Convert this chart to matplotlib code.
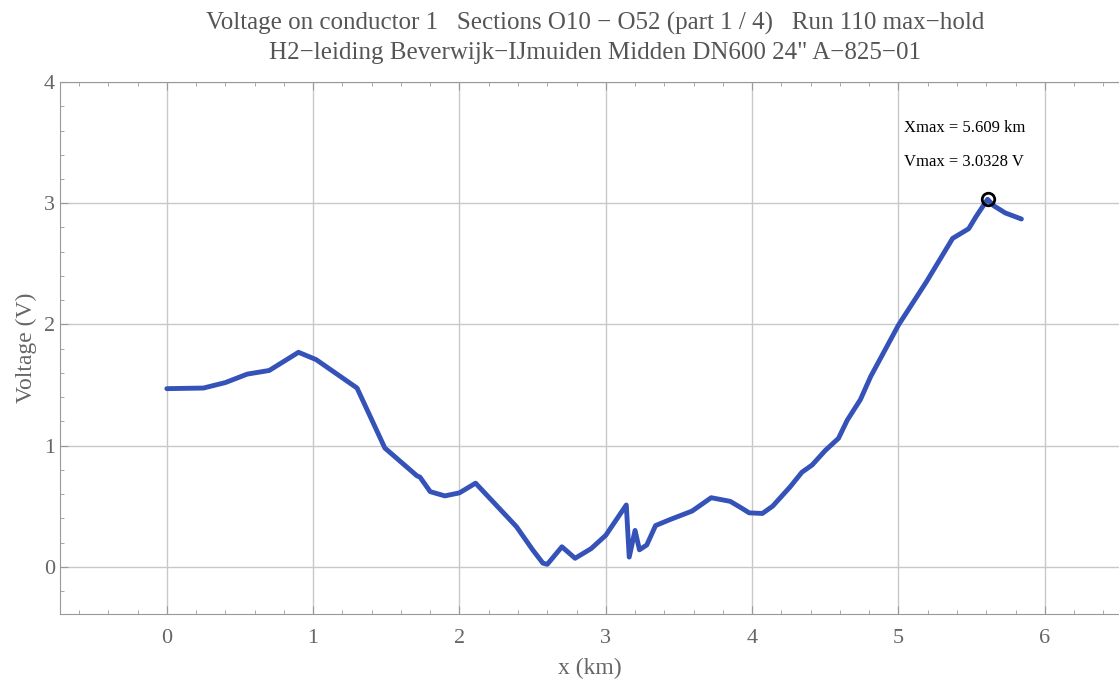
import matplotlib
matplotlib.use("Agg")
import matplotlib.pyplot as plt
from matplotlib.ticker import MultipleLocator

# voltage profile (km, V)
x_km = [0.00, 0.25, 0.40, 0.55, 0.70, 0.90, 1.02, 1.30, 1.49, 1.71, 1.73,
        1.80, 1.90, 2.00, 2.11, 2.39, 2.50, 2.57, 2.60, 2.70, 2.79, 2.90,
        3.00, 3.14, 3.16, 3.20, 3.23, 3.28, 3.34, 3.44, 3.59, 3.72, 3.85,
        3.92, 3.98, 4.07, 4.14, 4.26, 4.34, 4.41, 4.50, 4.59, 4.65, 4.74,
        4.81, 5.00, 5.19, 5.37, 5.48, 5.53, 5.609, 5.65, 5.73, 5.84]
volt = [1.47, 1.475, 1.52, 1.59, 1.62, 1.77, 1.71, 1.475, 0.98, 0.75, 0.74,
        0.62, 0.585, 0.61, 0.69, 0.33, 0.14, 0.03, 0.02, 0.165, 0.07, 0.15,
        0.26, 0.51, 0.08, 0.30, 0.14, 0.18, 0.34, 0.39, 0.46, 0.57, 0.54,
        0.49, 0.445, 0.44, 0.50, 0.66, 0.78, 0.84, 0.96, 1.06, 1.21, 1.38,
        1.57, 1.995, 2.35, 2.71, 2.79, 2.89, 3.0328, 2.98, 2.92, 2.87]

x_max = 5.609
v_max = 3.0328

title = ("Voltage on conductor 1   Sections O10 \u2212 O52 (part 1 / 4)   Run 110 max\u2212hold\n"
         "H2\u2212leiding Beverwijk\u2212IJmuiden Midden DN600 24\" A\u2212825\u221201")

plt.rcParams['font.family'] = ['Liberation Serif', 'DejaVu Serif']

fig = plt.figure(figsize=(11.19, 6.84), dpi=100)
ax = fig.add_axes([0.0536, 0.1023, 0.9464, 0.7777])

ax.plot(x_km, volt, color='#3452b8', linewidth=3.5, solid_joinstyle='round',
        solid_capstyle='round')
ax.plot([x_max], [v_max], 'o', markersize=9, markerfacecolor='none',
        markeredgecolor='black', markeredgewidth=2)
ax.text(5.04, 3.62, f"Xmax = {x_max} km", fontsize=12, va='center')
ax.text(5.04, 3.34, f"Vmax = {v_max} V", fontsize=12, va='center')

ax.set_xlim(-0.73, 6.507)
ax.set_ylim(-0.39, 4.0)
ax.xaxis.set_major_locator(MultipleLocator(1))
ax.xaxis.set_minor_locator(MultipleLocator(0.2))
ax.yaxis.set_major_locator(MultipleLocator(1))
ax.yaxis.set_minor_locator(MultipleLocator(0.2))
ax.grid(True, which='major', color='#c8c8c8', linewidth=1.0)
ax.set_axisbelow(True)

for side in ['left', 'bottom', 'top']:
    ax.spines[side].set_color('#999999')
ax.spines['right'].set_visible(False)
ax.tick_params(which='both', direction='in', colors='#999999', labelcolor='#666666',
               labelsize=16, top=True)
ax.tick_params(which='major', length=6)
ax.tick_params(which='minor', length=3)
ax.tick_params(axis='x', pad=11)

ax.set_xlabel('x (km)', fontsize=17, color='#666666', labelpad=7)
ax.set_ylabel('Voltage (V)', fontsize=17, color='#666666', labelpad=5)
fig.text(0.532, 0.983, title, ha='center', va='top', fontsize=18,
         color='#555555', linespacing=1.45)

fig.savefig('out.png', dpi=100)
